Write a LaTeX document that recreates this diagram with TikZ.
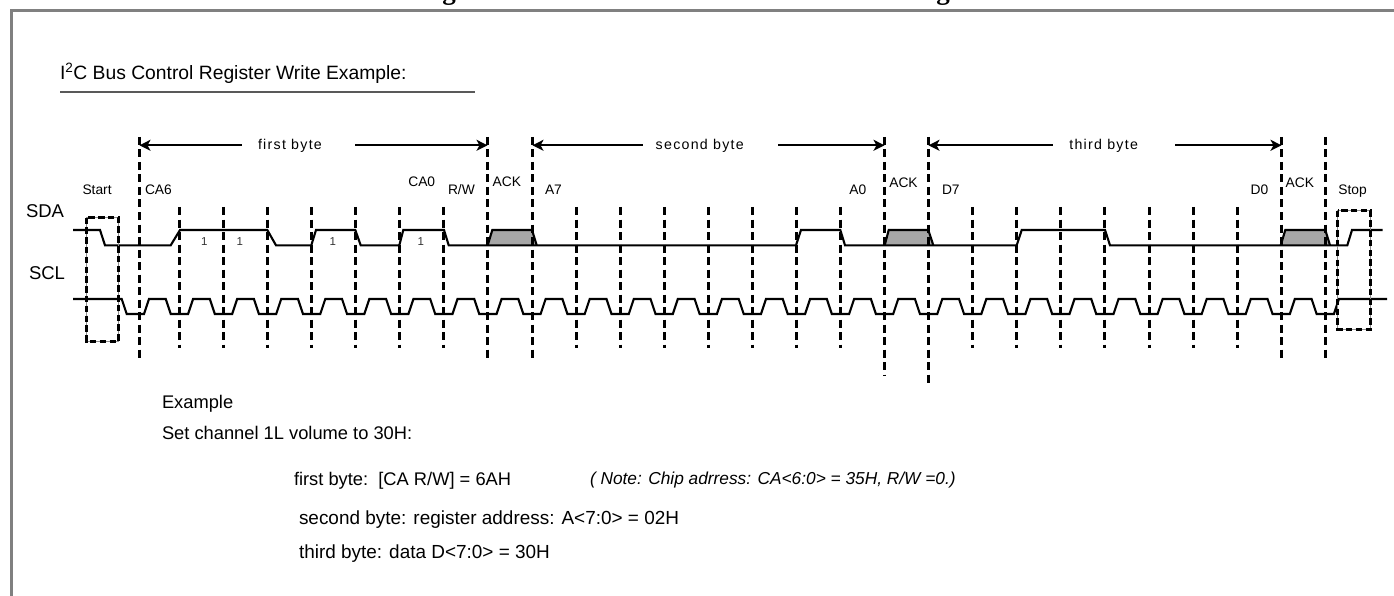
\documentclass[tikz,border=0pt]{standalone}
\usepackage{fontspec}
\setmainfont{Liberation Sans}
\newfontfamily\spacedfont[LetterSpace=9]{Liberation Sans}
\newfontfamily\titlefont{Liberation Serif}
\usetikzlibrary{arrows.meta}
\definecolor{framegray}{HTML}{808080}
\definecolor{ackgray}{HTML}{A6A6A6}
\tikzset{
  txt/.style={anchor=base west,inner sep=0pt,outer sep=0pt,text=black},
  bodytxt/.style={txt,font=\fontsize{18.3}{20}\selectfont},
  bodylarge/.style={txt,font=\fontsize{18.95}{20}\selectfont},
  notetxt/.style={txt,font=\fontsize{17.3}{20}\selectfont\itshape},
  headtxt/.style={txt,font=\fontsize{19.3}{22}\selectfont},
  sigtxt/.style={txt,font=\fontsize{18.5}{22}\selectfont},
  smalltxt/.style={txt,font=\fontsize{13.8}{16}\selectfont},
  bytetxt/.style={txt,font=\fontsize{14.2}{16}\spacedfont},
  onetxt/.style={anchor=base,inner sep=0pt,outer sep=0pt,text=black!80,font=\fontsize{11.5}{13}\selectfont},
  wave/.style={line width=2.1pt,line join=miter,black},
  tick/.style={line width=2.5pt,black,dash pattern=on 8pt off 4.5pt},
  longtick/.style={line width=3pt,black,dash pattern=on 8pt off 4.5pt},
  markbox/.style={line width=2.5pt,black,dash pattern=on 6.5pt off 3.3pt},
  markthin/.style={line width=.6pt,black!45},
  bytearrow/.style={line width=2.3pt,black,-{Stealth[length=11pt,width=11pt,inset=3pt]}},
}
\begin{document}
\begin{tikzpicture}[x=1pt,y=-1pt]
\useasboundingbox (0,0) rectangle (1394,596);
% cropped title descenders
\node[anchor=base,inner sep=0pt,font=\fontsize{27}{30}\titlefont\bfseries] (titlega) at (449,0) {g};
\node[anchor=base,inner sep=0pt,font=\fontsize{27}{30}\titlefont\bfseries] (titlegb) at (943,0) {g};
% frame
\draw[framegray,line width=3pt] (11.5,596) -- (11.5,10.5) -- (1394,10.5);
% heading
\node[headtxt] (head) at (60,80) {I\textsuperscript{2}C Bus Control Register Write Example:};
\draw[black!65,line width=1.3pt] (60,92) -- (475,92);
% signal names
\node[sigtxt] (sda) at (26,217) {SDA};
\node[sigtxt] (scl) at (29,279) {SCL};
% ack fills and SDA
\fill[ackgray] (487.7,245.3) -- (492.3,230) -- (532,230) -- (536.7,245.3) -- cycle;
\fill[ackgray] (884.7,245.3) -- (888.7,230) -- (928.3,230) -- (933.3,245.3) -- cycle;
\fill[ackgray] (1280.7,245.3) -- (1285.3,230) -- (1325.3,230) -- (1330,245.3) -- cycle;
\draw[wave] (73,230) -- (100,230) -- (105,245.3) -- (170.7,245.3) -- (180,230) -- (267.3,230) -- (276,245.3)
  -- (311.3,245.3) -- (316,230) -- (355.3,230) -- (360.7,245.3) -- (399.3,245.3) -- (403.3,230) -- (444,230)
  -- (448.7,245.3) -- (796,245.3) -- (801,230) -- (840.3,230) -- (845,245.3) -- (1016.7,245.3) -- (1021.7,230)
  -- (1105,230) -- (1110,245.3) -- (1347.3,245.3) -- (1352,230) -- (1382.7,230);
\draw[wave] (487.7,245.3) -- (492.3,230) -- (532,230) -- (536.7,245.3);
\draw[wave] (884.7,245.3) -- (888.7,230) -- (928.3,230) -- (933.3,245.3);
\draw[wave] (1280.7,245.3) -- (1285.3,230) -- (1325.3,230) -- (1330,245.3);
% SCL
\draw[wave] (73,299) foreach \k in {0,...,27} {
  -- ({121.7+44.07*\k},299) -- ({126.7+44.07*\k},314)
  -- ({144+44.07*\k},314) -- ({149+44.07*\k},299) } -- (1387,299);
% tick marks (snapped to pixel centres so all render alike)
\coordinate (ca6top) at (139.5,137);
\draw[longtick] (ca6top) -- (139.5,360);
\foreach \k in {0,...,26} {
  \pgfmathsetmacro{\xk}{floor(179.5+44.07*\k)+0.5}
  \coordinate (d\k) at (\xk,137);
}
\foreach \k in {0,...,6,9,10,...,15,18,19,...,24} {
  \pgfmathsetmacro{\xk}{floor(179.5+44.07*\k)+0.5}
  \draw[tick] (\xk,207) -- (\xk,348);
}
\foreach \k/\e in {7/360,8/360,16/375,17/383,25/360,26/360} {
  \pgfmathsetmacro{\xk}{floor(179.5+44.07*\k)+0.5}
  \draw[longtick] (d\k) -- (\xk,\e);
}
% start and stop boxes
\draw[markthin] (86.5,217.5) rectangle (118.5,341.5);
\draw[markthin] (1337.5,210.5) rectangle (1370.5,329.5);
\draw[markbox] (86.5,217.5) rectangle (118.5,341.5);
\draw[markbox] (1337.5,210.5) rectangle (1370.5,329.5);
% labels
\node[smalltxt] (lblstart) at (82.5,194) {Start};
\node[smalltxt] (lblca6) at (145,194) {CA6};
\node[smalltxt] (lblca0) at (408.3,186) {CA0};
\node[smalltxt] (lblrw) at (448,194) {R/W};
\node[smalltxt] (lblacka) at (492.7,186) {ACK};
\node[smalltxt] (lbla7) at (545,194) {A7};
\node[smalltxt] (lbla0) at (849.3,194) {A0};
\node[smalltxt] (lblackb) at (889.3,188) {ACK};
\node[smalltxt] (lblds) at (942,194) {D7};
\node[smalltxt] (lbldz) at (1250.7,194) {D0};
\node[smalltxt] (lblackc) at (1285.7,188) {ACK};
\node[smalltxt] (lblstop) at (1338.3,194) {Stop};
\node[onetxt] (one1) at (204.3,245.7) {1};
\node[onetxt] (one2) at (239.7,245.7) {1};
\node[onetxt] (one3) at (332.7,245.7) {1};
\node[onetxt] (one4) at (420.7,245.7) {1};
% byte spans
\node[bytetxt] (bytea) at (258,149.5) {first byte};
\node[bytetxt] (byteb) at (655.7,149.5) {second byte};
\node[bytetxt] (bytec) at (1069.3,149.5) {third byte};
\coordinate (aL) at (241.7,145.3); \coordinate (aR) at (355,145.3);
\coordinate (bL) at (642.7,145.3); \coordinate (bR) at (778.3,145.3);
\coordinate (cL) at (1052.7,145.3); \coordinate (cR) at (1175,145.3);
\draw[bytearrow] (aL) -- (ca6top |- aL);
\draw[bytearrow] (aR) -- (d7 |- aR);
\draw[bytearrow] (bL) -- (d8 |- bL);
\draw[bytearrow] (bR) -- (d16 |- bR);
\draw[bytearrow] (cL) -- (d17 |- cL);
\draw[bytearrow] (cR) -- (d25 |- cR);
% example text
\node[bodytxt] (ex) at (162,408) {Example};
\node[bodytxt] (set) at (162,439) {Set channel 1L volume to 30H:};
\node[bodytxt] (fb) at (294,485) {first byte:\ \ [CA R/W] = 6AH};
\node[notetxt] (note) at (590,484) {( Note: Chip adrress: CA<6:0> = 35H, R/W =0.)};
\node[bodylarge] (sb) at (299,524) {second byte: register address: A<7:0> = 02H};
\node[bodylarge] (tb) at (299,558) {third byte: data D<7:0> = 30H};
\end{tikzpicture}
\end{document}
